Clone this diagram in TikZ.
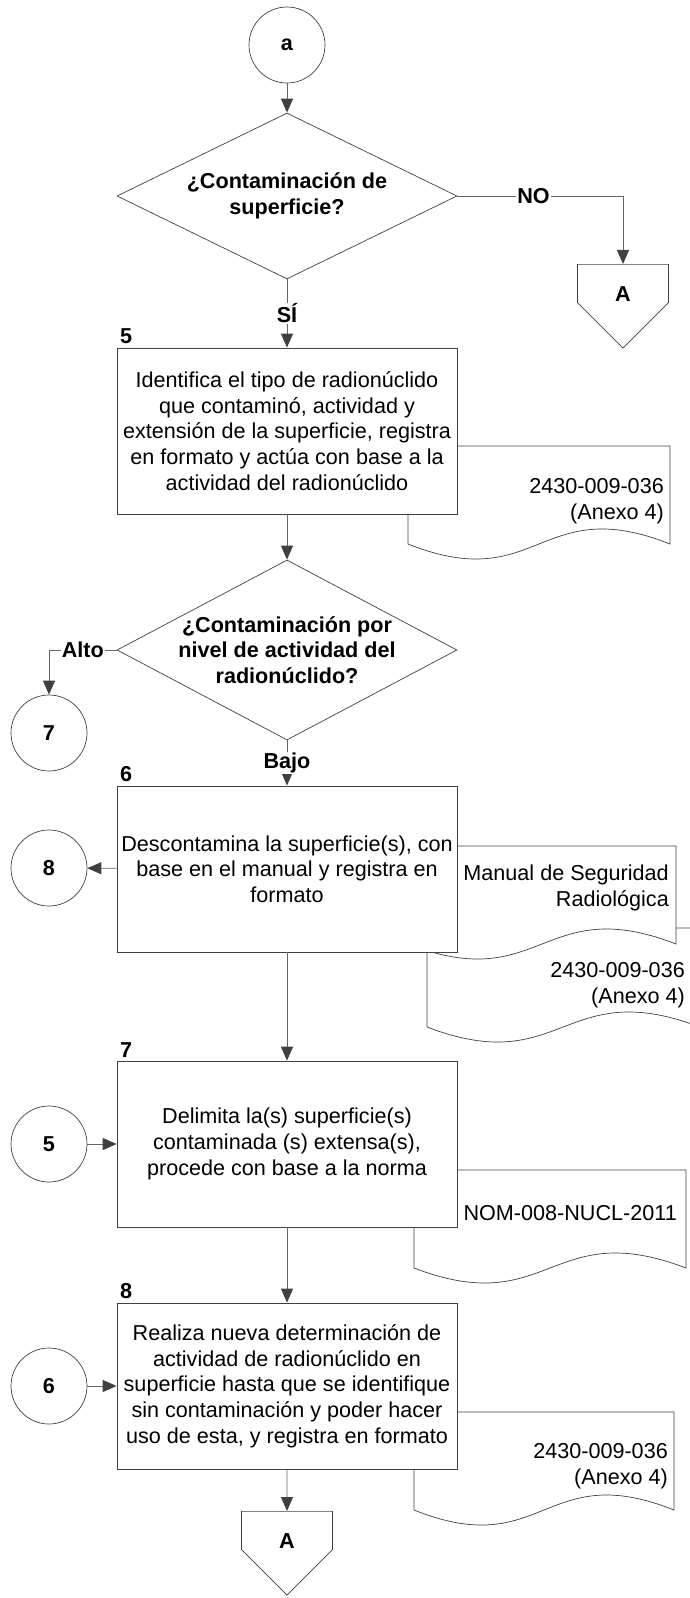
\documentclass[tikz,border=0pt]{standalone}
\usepackage{fontspec}
\setmainfont{Liberation Sans}
\usetikzlibrary{positioning, arrows.meta, shapes.geometric, shapes.symbols}
\newcommand{\fsz}{\fontsize{21.6}{25.7}\selectfont}

\begin{document}
\begin{tikzpicture}[
                    % GLOBAL CFG
                    x=1pt, y=-1pt,
                    font=\fsz,
                    >={Triangle[length=14pt, width=12pt, color=black!75]},
                    % Styles
                    proc/.style={% For the activity boxes
                            rectangle,
                            draw=black!75,
                            fill=white,
                            line width=.8pt,
                            minimum width=340pt,
                            minimum height=166pt,
                            inner sep=3pt,
                            align=center,
                        },
                    decision/.style={% For the questions
                            diamond,
                            draw=black!75,
                            line width=.7pt,
                            aspect=2.05,
                            minimum width=340pt,
                            inner sep=-12pt,
                            align=center,
                            font=\fsz\bfseries,
                        },
                    conn/.style={% For on-page connectors
                            circle,
                            draw=black!75,
                            line width=.7pt,
                            minimum size=76pt,
                            inner sep=0pt,
                            font=\fsz\bfseries,
                        },
                    offpage/.style={% For off-page connectors
                            signal,
                            signal to=south,
                            signal pointer angle=90,
                            draw=black!75,
                            line width=.7pt,
                            minimum width=91pt,
                            minimum height=46pt,
                            inner sep=0pt,
                            text height=37pt,
                            text depth=0pt,
                            font=\fsz\bfseries,
                        },
                    docshape/.style={% For the documents
                            draw=black!75,
                            fill=white,
                            line width=.7pt,
                        },
                    doctext/.style={%
                            align=right,
                            anchor=east,
                            inner sep=0pt,
                        },
                    steplbl/.style={% Step numbers
                            font=\fsz\bfseries,
                            anchor=south west,
                        },
                    answer/.style={% Labels on the arrows
                            fill=white,
                            inner sep=1pt,
                            font=\fsz\bfseries,
                        },
                    flow/.style={% Arrows
                            draw=black!60,
                            line width=.9pt,
                            ->,
                        },
                ]

                \useasboundingbox (0,0) rectangle (690,1598);

                % Draw the documents (behind the boxes)
                \draw [docshape] (408,446) -- (670,446) -- (670,544) .. controls (539,492) and (539,596) .. (408,544) -- cycle;
                \node [doctext] (doc1) at (664,501) {2430-009-036\\(Anexo 4)};

                \draw [docshape] (427,928) -- (700,928) -- (700,1027) .. controls (563,975) and (563,1079) .. (427,1027) -- cycle;
                \node [doctext] (doc3) at (685,985) {2430-009-036\\(Anexo 4)};
                \draw [docshape] (408,846) -- (676,846) -- (676,944) .. controls (542,892) and (542,996) .. (408,944) -- cycle;
                \node [doctext] (doc2) at (669,888) {Manual de Seguridad\\Radiológica};

                \draw [docshape] (414,1170) -- (686,1170) -- (686,1268) .. controls (550,1216) and (550,1320) .. (414,1268) -- cycle;
                \node [doctext] (doc4) at (677,1213) {NOM-008-NUCL-2011};

                \draw [docshape] (414,1412) -- (674,1412) -- (674,1510) .. controls (544,1458) and (544,1562) .. (414,1510) -- cycle;
                \node [doctext] (doc5) at (668,1466) {2430-009-036\\(Anexo 4)};

                % Draw the flow
                \node [conn] (a) at (287,45) {a};
                \node [decision, minimum height=166pt] (d1) at (287,196) {¿Contaminación de\\superficie?};
                \node [offpage, anchor=north] (A1) at (623,264) {A};

                \node [proc, label={[steplbl]north west:5}] (b5) at (287,431)
                    {Identifica el tipo de radionúclido\\que contaminó, actividad y\\extensión de la superficie, registra\\en formato y actúa con base a la\\actividad del radionúclido};
                \node [decision, minimum height=180pt] (d2) at (287,650) {¿Contaminación por\\nivel de actividad del\\radionúclido?};
                \node [conn] (c7) at (49,733) {7};

                \node [proc, label={[steplbl]north west:6}] (b6) at (287,869)
                    {Descontamina la superficie(s), con\\base en el manual y registra en\\formato};
                \node [conn] (c8) at (49,868) {8};

                \node [proc, label={[steplbl]north west:7}] (b7) at (287,1144)
                    {Delimita la(s) superficie(s)\\contaminada (s) extensa(s),\\procede con base a la norma};
                \node [conn] (c5) at (49,1144) {5};

                \node [proc, label={[steplbl]north west:8}] (b8) at (287,1386)
                    {Realiza nueva determinación de\\actividad de radionúclido en\\superficie hasta que se identifique\\sin contaminación y poder hacer\\uso de esta, y registra en formato};
                \node [conn] (c6) at (49,1386) {6};
                \node [offpage, anchor=north] (A2) at (287,1511) {A};

                % Connect all
                \draw [flow] (a) -- (d1);
                \draw [flow] (d1) -| node[answer, pos=0.23]{NO} (A1);
                \draw [flow] (d1) -- node[answer]{SÍ} (b5);
                \draw [flow] (b5) -- (d2);
                \draw [flow] (d2) -| node[answer, pos=0.25]{Alto} (c7);
                \draw [flow] (d2) -- node[answer]{Bajo} (b6);
                \draw [flow] (b6) -- (c8);
                \draw [flow] (b6) -- (b7);
                \draw [flow] (c5) -- (b7);
                \draw [flow] (b7) -- (b8);
                \draw [flow] (c6) -- (b8);
                \draw [flow] (b8) -- (A2);

            \end{tikzpicture}
\end{document}
